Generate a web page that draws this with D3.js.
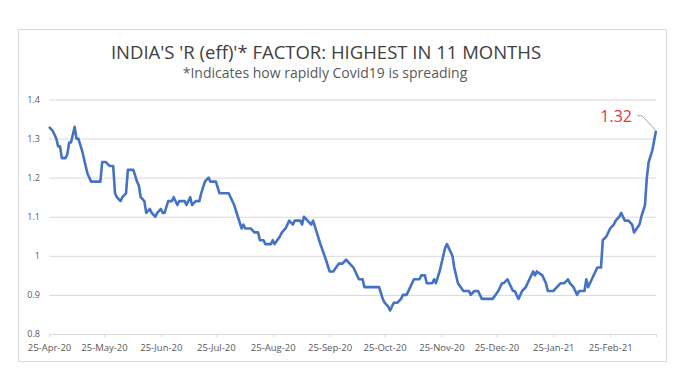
<!DOCTYPE html>
<html>
<head>
<meta charset="utf-8">
<script src="https://cdn.jsdelivr.net/npm/d3@7"></script>
<style>
  body { margin: 0; background: #fff; }
  text { font-family: "Open Sans", sans-serif; }
</style>
</head>
<body>
<div id="chart"><svg width="683" height="369"></svg></div>
<script>
// data: days after 25-Apr-20, R(eff) value
const startDate = new Date(2020, 3, 25);
const dayOffsets = [0, 2, 4, 5, 6, 7, 9, 10, 11, 12, 14, 15, 16, 18, 20, 21, 23, 28, 29, 31, 33, 35, 36, 37, 39, 40, 42, 43, 46, 48, 49, 50, 52, 53, 55, 56, 58, 59, 61, 62, 63, 65, 67, 68, 70, 71, 74, 75, 77, 78, 80, 82, 83, 85, 87, 88, 91, 93, 98, 99, 101, 103, 105, 106, 107, 110, 112, 114, 115, 117, 118, 121, 122, 123, 126, 127, 129, 131, 133, 134, 137, 138, 139, 141, 143, 144, 146, 148, 151, 153, 155, 158, 160, 162, 164, 166, 167, 169, 171, 172, 174, 180, 182, 183, 185, 186, 188, 189, 190, 192, 193, 195, 197, 199, 202, 203, 205, 206, 209, 210, 211, 213, 216, 217, 220, 221, 223, 226, 229, 230, 232, 234, 236, 242, 245, 247, 248, 250, 251, 253, 254, 256, 258, 260, 262, 264, 265, 266, 269, 271, 272, 275, 277, 279, 281, 283, 284, 286, 288, 289, 292, 293, 294, 296, 297, 299, 301, 302, 304, 306, 308, 309, 311, 312, 314, 316, 318, 319, 322, 323, 325, 326, 327, 329, 331];
const rValues = [1.33, 1.32, 1.30, 1.28, 1.28, 1.25, 1.25, 1.26, 1.29, 1.29, 1.33, 1.30, 1.30, 1.27, 1.23, 1.21, 1.19, 1.19, 1.24, 1.24, 1.23, 1.23, 1.16, 1.15, 1.14, 1.15, 1.16, 1.22, 1.22, 1.19, 1.18, 1.15, 1.14, 1.11, 1.12, 1.11, 1.10, 1.11, 1.12, 1.11, 1.11, 1.14, 1.14, 1.15, 1.13, 1.14, 1.14, 1.13, 1.15, 1.13, 1.14, 1.14, 1.16, 1.19, 1.20, 1.19, 1.19, 1.16, 1.16, 1.15, 1.13, 1.10, 1.07, 1.08, 1.07, 1.07, 1.06, 1.06, 1.04, 1.04, 1.03, 1.03, 1.04, 1.03, 1.05, 1.06, 1.07, 1.09, 1.08, 1.09, 1.09, 1.08, 1.10, 1.09, 1.08, 1.09, 1.06, 1.03, 0.99, 0.96, 0.96, 0.98, 0.98, 0.99, 0.98, 0.97, 0.96, 0.94, 0.94, 0.92, 0.92, 0.92, 0.89, 0.88, 0.87, 0.86, 0.88, 0.88, 0.88, 0.89, 0.90, 0.90, 0.92, 0.94, 0.94, 0.95, 0.95, 0.93, 0.93, 0.94, 0.93, 0.96, 1.02, 1.03, 1.00, 0.97, 0.93, 0.91, 0.91, 0.90, 0.91, 0.91, 0.89, 0.89, 0.91, 0.93, 0.93, 0.94, 0.93, 0.91, 0.91, 0.89, 0.91, 0.92, 0.94, 0.96, 0.95, 0.96, 0.95, 0.93, 0.91, 0.91, 0.92, 0.93, 0.93, 0.94, 0.93, 0.92, 0.90, 0.91, 0.91, 0.94, 0.92, 0.94, 0.95, 0.97, 0.97, 1.04, 1.05, 1.07, 1.08, 1.09, 1.10, 1.11, 1.09, 1.09, 1.08, 1.06, 1.08, 1.10, 1.13, 1.20, 1.24, 1.27, 1.32];
const yTicks = [0.8, 0.9, 1, 1.1, 1.2, 1.3, 1.4];
const xTickDates = ["2020-04-25", "2020-05-25", "2020-06-25", "2020-07-25", "2020-08-25", "2020-09-25",
    "2020-10-25", "2020-11-25", "2020-12-25", "2021-01-25", "2021-02-25"];
const endDate = new Date(2021, 2, 22);
const titleText = "INDIA'S 'R (eff)'* FACTOR: HIGHEST IN 11 MONTHS";
const subtitleText = "*Indicates how rapidly Covid19 is spreading";

const data = dayOffsets.map((d, i) => ({ date: d3.timeDay.offset(startDate, d), value: rValues[i] }));

const svg = d3.select("#chart svg");
const width = +svg.attr("width");
const height = +svg.attr("height");

// chart frame
svg.append("rect")
    .attr("x", 18.5).attr("y", 29.5)
    .attr("width", 648).attr("height", 332)
    .attr("fill", "none")
    .attr("stroke", "#d9d9d9");

const xScale = d3.scaleTime()
    .domain([startDate, endDate])
    .range([49, 656]);

const yScale = d3.scaleLinear()
    .domain([0.8, 1.4])
    .range([334, 99.5]);

// gridlines
const yAxis = d3.axisLeft(yScale)
    .tickValues(yTicks)
    .tickFormat(d3.format("~g"))
    .tickSize(-(656 - 49))
    .tickPadding(9);

const gy = svg.append("g")
    .attr("class", "y-axis")
    .attr("transform", "translate(49,0)")
    .call(yAxis);
gy.select(".domain").remove();
gy.selectAll("line").attr("stroke", "#d9d9d9");
gy.selectAll("text")
    .attr("fill", "#595959")
    .style("font-size", "9px");

// x axis
const parse = d3.timeParse("%Y-%m-%d");
const xAxis = d3.axisBottom(xScale)
    .tickValues(xTickDates.map(parse))
    .tickFormat(d3.timeFormat("%d-%b-%y"))
    .tickSize(3)
    .tickPadding(7);

const gx = svg.append("g")
    .attr("class", "x-axis")
    .attr("transform", "translate(0,334)")
    .call(xAxis);
gx.select(".domain").attr("stroke", "#d9d9d9");
gx.selectAll("line").attr("stroke", "#d9d9d9");
gx.selectAll("text")
    .attr("fill", "#595959")
    .style("font-size", "9.5px");

// the line
const line = d3.line()
    .x(d => xScale(d.date))
    .y(d => yScale(d.value));

svg.append("path")
    .datum(data)
    .attr("fill", "none")
    .attr("stroke", "#4472c4")
    .attr("stroke-width", 2.6)
    .attr("stroke-linejoin", "round")
    .attr("d", line);

// titles
svg.append("text")
    .attr("x", 326).attr("y", 59)
    .attr("text-anchor", "middle")
    .attr("fill", "#404040")
    .style("font-size", "18.5px")
    .text(titleText);

svg.append("text")
    .attr("x", 325).attr("y", 78)
    .attr("text-anchor", "middle")
    .attr("fill", "#595959")
    .style("font-size", "14px")
    .text(subtitleText);

// label on last point
const last = data[data.length - 1];
const lx = xScale(last.date), ly = yScale(last.value);
svg.append("path")
    .attr("d", `M${lx - 19},${ly - 15}L${lx - 14},${ly - 15}L${lx},${ly}`)
    .attr("fill", "none")
    .attr("stroke", "#a6a6a6")
    .attr("stroke-width", 1);

svg.append("text")
    .attr("x", lx - 24).attr("y", ly - 9)
    .attr("text-anchor", "end")
    .attr("fill", "#e0393e")
    .style("font-size", "16px")
    .text(d3.format(".2f")(last.value));
</script>
</body>
</html>
